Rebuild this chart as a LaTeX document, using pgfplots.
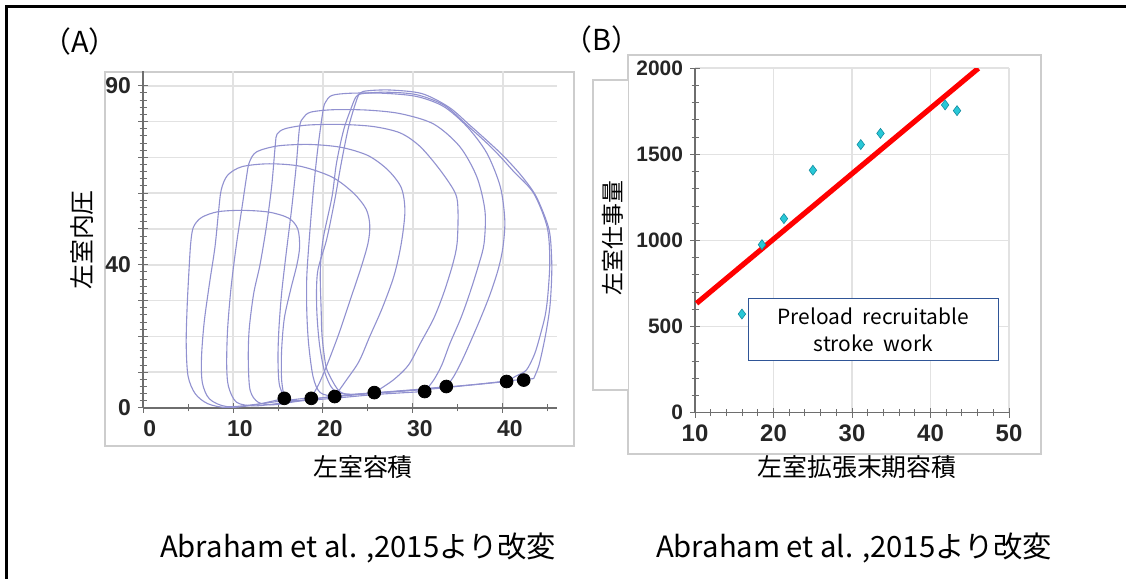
\documentclass[border=0pt]{standalone}
\usepackage{pgfplots}
\pgfplotsset{compat=1.18}
\usepackage{fontspec}
\setmainfont{Liberation Sans}
\newfontfamily\jp{Noto Sans CJK JP}
\definecolor{loopc}{RGB}{145,145,208}
\definecolor{gridc}{RGB}{226,226,226}
\definecolor{framec}{RGB}{205,205,205}
\definecolor{axc}{RGB}{110,110,110}
\definecolor{diam}{RGB}{40,200,215}
\definecolor{diamd}{RGB}{20,140,160}
\definecolor{boxc}{RGB}{47,85,151}
\begin{document}
\begin{tikzpicture}
\useasboundingbox (0bp,0bp) rectangle (563bp,289.5bp);
\fill[white] (0bp,0bp) rectangle (563bp,289.5bp);
% outer frame (top and left)
\draw[line width=1.5bp] (3bp,0bp) -- (3bp,286.3bp) -- (563bp,286.3bp);
% panel frames
\draw[framec, line width=0.6bp] (52.5bp,66.5bp) rectangle (287bp,253.5bp);
\draw[framec, line width=0.6bp] (314bp,62.5bp) rectangle (520.5bp,262bp);
\fill[white] (296.5bp,94.5bp) rectangle (314bp,249.5bp);
\draw[framec, line width=0.6bp] (314bp,94.5bp) -- (296.5bp,94.5bp) -- (296.5bp,249.5bp) -- (314bp,249.5bp);

% ---------------- Panel A ----------------
\begin{axis}[
  at={(71.5bp,85.5bp)}, anchor=south west, scale only axis,
  width=207bp, height=168.3bp,
  xmin=0, xmax=46, ymin=0, ymax=94,
  axis x line*=bottom, axis y line*=left,
  axis line style={axc, line width=0.8bp},
  xtick={0,10,20,30,40}, xticklabels={0,10,20,30,40},
  minor xtick={5,15,25,35,45},
  ytick={0,10,...,90}, yticklabels={0,,,,40,,,,,90},
  minor y tick num=4,
  grid=major, major grid style={gridc, line width=0.8bp},
  tick align=center, major tick length=5bp, minor tick length=3.5bp,
  tick style={axc, line width=0.5bp},
  tick label style={font=\fontsize{11.5}{12}\selectfont\bfseries, text=black!85},
  xticklabel style={xshift=3.4bp},
]
\addplot[loopc, line width=0.55bp, smooth] coordinates {
(15.7,2.7) (15.4,8) (15.4,16) (15.7,25) (16.4,33) (17.1,40) (17.4,45) (17.2,50) (16.2,53) (14,54.7) (11,55.2) (8.3,54.8) (6.5,53.2) (5.6,50.5) (5.3,46) (5.1,38) (4.9,28) (4.8,18) (5.0,9) (5.8,4) (7.2,1.2) (9.3,0.1) (12,0.7) (14,1.7) (15.7,2.7)};
\addplot[loopc, line width=0.55bp, smooth] coordinates {
(18.7,2.9) (19.6,7) (20.6,13) (21.8,21) (23.0,30) (24.2,39) (25.0,46) (25.2,51) (24.8,55.5) (23.4,60) (21,64.5) (17.5,67.5) (14,68.2) (11,67.4) (9.4,65) (8.7,61) (8.4,55) (8.0,45) (7.4,35) (6.8,24) (6.5,14) (6.6,7) (7.4,2.5) (9.3,0.4) (12.5,1.0) (15.5,2.0) (18.7,2.9)};
\addplot[loopc, line width=0.55bp, smooth] coordinates {
(21.3,3.2) (22.6,7.8) (24,13) (25.2,20) (26.6,28) (27.9,37) (28.7,46) (29.1,55) (28.7,61.5) (27.2,66.5) (25,70.5) (22,72.8) (18.5,73.6) (15,73.2) (12.6,71.5) (11.8,68.5) (11.5,64.5) (11,56) (10.4,46) (9.8,34) (9.4,22) (9.3,12) (9.5,6) (10.4,1.6) (12.5,0.6) (16,1.6) (19,2.6) (21.3,3.2)};
\addplot[loopc, line width=0.55bp, smooth] coordinates {
(25.7,4.3) (27.8,7.8) (29.5,12) (30.8,18) (32.3,25) (33.4,32) (34.4,40) (34.9,46) (35,55) (34.7,60) (33,66.5) (30.8,73) (28.6,76.8) (25.6,78.6) (21.9,79.2) (18.2,79) (15.8,78) (14.9,76.5) (14.7,73.5) (14.3,62) (13.7,50.5) (13,40) (12.3,32) (11.8,22) (11.7,13.4) (11.9,5) (12.8,1.6) (14.5,0.9) (17,1.8) (21,3.2) (25.7,4.3)};
\addplot[loopc, line width=0.55bp, smooth] coordinates {
(31.3,4.6) (32.3,7.8) (33.2,12) (34.1,18) (35.3,25) (36.3,32) (37.3,40) (37.9,46) (38,55) (37.1,64.5) (35.2,73) (32.3,79.3) (28.6,82.2) (24.9,83.2) (21.1,83.3) (18.6,82.6) (17.8,81) (17.4,78.5) (17,67) (16.5,55.3) (15.9,43) (15.4,32) (15.1,22) (15.0,13.4) (15.2,6) (16.2,2.3) (18.5,2.2) (22,2.9) (26,3.8) (31.3,4.6)};
\addplot[loopc, line width=0.55bp, smooth] coordinates {
(33.7,6.0) (34.5,8.7) (35.4,13) (36.3,18) (37.5,25) (38.6,32) (39.5,39) (40.0,45) (40.2,52.5) (39.7,61.8) (38.2,71.2) (36,78.6) (33.4,84.2) (30.4,87) (26.7,87.9) (23,87.9) (21,87.3) (20.3,85.5) (20,83) (19.4,72) (18.9,60) (18.5,48) (18.2,36.7) (18.2,27) (18.4,18) (18.9,8.7) (19.7,4.3) (21.5,3.3) (25,4.0) (30,5.0) (33.7,6.0)};
\addplot[loopc, line width=0.55bp, smooth] coordinates {
(40.4,7.4) (41.5,9) (42.6,10.6) (43.5,15) (44.1,20) (44.7,26) (45,32) (45.2,41.3) (44.9,50.6) (43.4,60) (41.2,66) (39.7,70.2) (38.2,74) (36,79) (33.5,84.5) (30.4,87.5) (27,88.2) (24.4,87.8) (23.7,87) (23.2,84.2) (22.3,77.7) (21.5,68.4) (21,59) (20,47) (19.7,38) (19.8,27) (19.9,20) (20.3,12) (20.8,8.7) (21.9,4.5) (23.5,3.8) (27,4.4) (32,5.3) (36,6.3) (40.4,7.4)};
\addplot[loopc, line width=0.55bp, smooth] coordinates {
(43.4,8.2) (44,12) (44.7,20) (45.2,28) (45.4,36) (45.4,42) (45.1,50) (43.7,59) (42,65) (40,70.5) (38.3,74.5) (36.3,79) (34,84) (31,87.8) (27.5,88.8) (25,88.6) (24.1,87.9) (23.6,85) (22.8,78) (22,68) (21.3,58) (20.4,47) (19.4,38) (19.3,28) (19.6,18) (20.2,10) (21.2,5.0) (23,3.8) (27,4.5) (32,5.5) (37,6.6) (41,7.7) (43.4,8.2)};
\addplot[only marks, mark=*, mark size=3.2bp, black] coordinates {
(15.7,2.7) (18.7,2.7) (21.3,3.2) (25.7,4.3) (31.3,4.6) (33.7,6.0) (40.4,7.4) (42.3,7.8)};
\end{axis}

% ---------------- Panel B ----------------
\begin{axis}[
  at={(347.5bp,83.15bp)}, anchor=south west, scale only axis,
  width=157bp, height=172.2bp,
  xmin=10, xmax=50, ymin=0, ymax=2000,
  axis x line*=bottom, axis y line*=left,
  axis line style={axc, line width=0.8bp},
  xtick={10,20,30,40,50}, xticklabels={10,20,30,40,50},
  minor x tick num=4,
  ytick={0,500,1000,1500,2000}, yticklabels={0,500,1000,1500,2000},
  minor y tick num=4,
  grid=major, major grid style={gridc, line width=0.8bp},
  tick align=center, major tick length=5bp, minor tick length=3.5bp,
  tick style={axc, line width=0.5bp},
  xticklabel style={font=\fontsize{12}{12}\selectfont\bfseries, text=black!85},
  yticklabel style={font=\fontsize{10.5}{12}\selectfont\bfseries, text=black!85},
]
\addplot[red, line width=2.6bp] coordinates {(10.2,635) (46.1,2000)};
\addplot[only marks, mark=diamond*, mark size=2.5bp, mark options={fill=diam, draw=diamd, line width=0.3bp}] coordinates {
(15.98,573) (18.53,976) (21.33,1127) (25.02,1408) (31.12,1557) (33.63,1622) (41.86,1787) (43.38,1754)};
\node[draw=boxc, line width=0.7bp, fill=white, minimum width=125bp, minimum height=31bp, align=center, inner sep=0pt, font=\jp\fontsize{10.5}{13.5}\selectfont] at (axis cs:32.7,482) {Preload\ \ recruitable\\stroke\ \ work};
\end{axis}

% labels
\node[font=\jp\fontsize{12.5}{13}\selectfont] at (181.5bp,56bp) {左室容積};
\node[font=\jp\fontsize{12.5}{13}\selectfont, rotate=90] at (41bp,169.5bp) {左室内圧};
\node[font=\jp\fontsize{12.5}{13}\selectfont] at (428.5bp,56bp) {左室拡張末期容積};
\node[font=\jp\fontsize{11.5}{12}\selectfont, rotate=90] at (306.5bp,170.5bp) {左室仕事量};
\node[font=\jp\fontsize{14.5}{15}\selectfont] at (40bp,268.5bp) {（A）};
\node[font=\jp\fontsize{14.5}{15}\selectfont] at (301bp,269.5bp) {（B）};
\node[font=\jp\fontsize{14.7}{15}\selectfont] at (179bp,15.5bp) {Abraham et al. ,2015より改変};
\node[font=\jp\fontsize{14.7}{15}\selectfont] at (427bp,15.5bp) {Abraham et al. ,2015より改変};
\end{tikzpicture}
\end{document}
